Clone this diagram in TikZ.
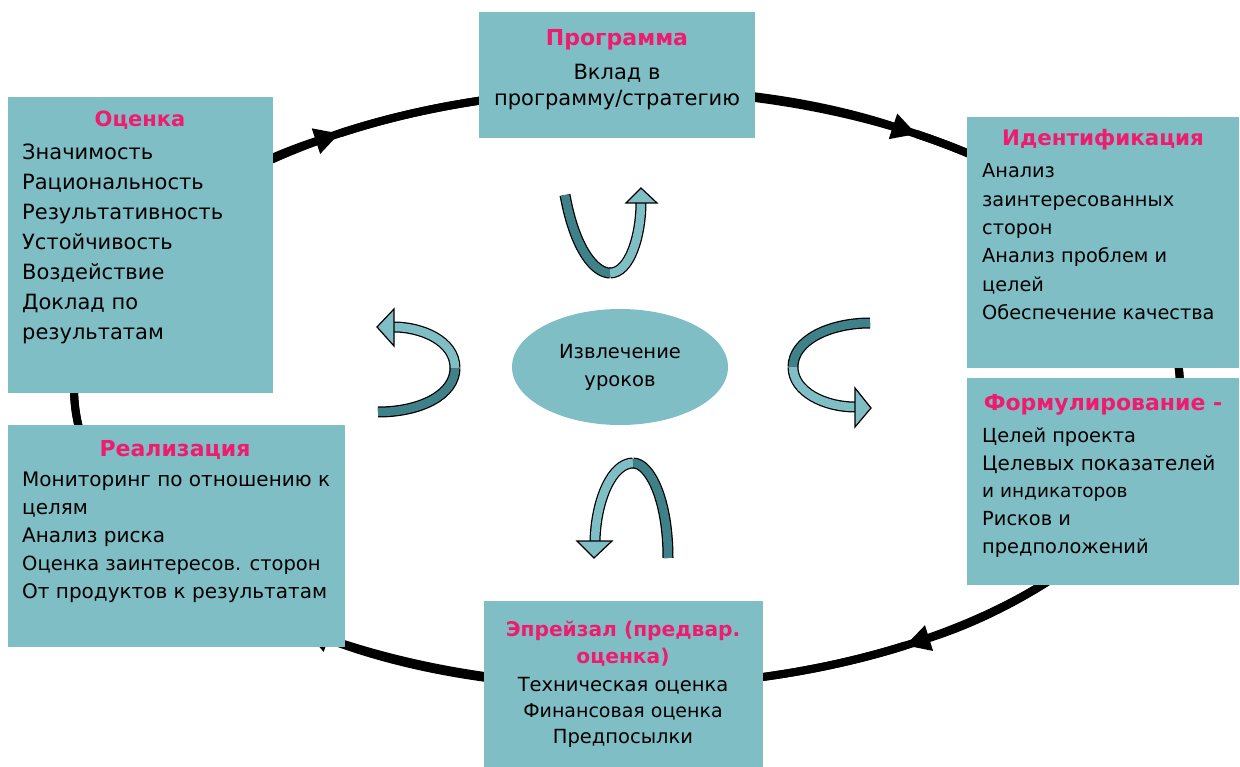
\documentclass[tikz,border=0pt]{standalone}
\usepackage{fontspec}
\setmainfont{DejaVu Sans}
\usetikzlibrary{arrows.meta,shapes.geometric}
\definecolor{boxc}{HTML}{80BEC6}
\definecolor{titc}{HTML}{EE1C6E}
\definecolor{darkc}{HTML}{3E8189}
\newcommand{\fs}[2]{\fontsize{#1}{#2}\selectfont}
\begin{document}
\begin{tikzpicture}[x=1pt,y=-1pt,
  box/.style={fill=boxc, draw=none, inner sep=0pt, anchor=north west},
  ttl/.style={text=titc, font=\bfseries\fs{21}{27}, inner sep=0pt, align=center},
  body/.style={font=\fs{20}{28.5}, align=left, inner sep=0pt, anchor=north west},
  cycline/.style={line width=8pt},
  cyc/.style={line width=8pt, -{Triangle[length=25pt,width=25pt]}},
  ribbonout/.style={line width=11pt, draw=black},
  ribbondark/.style={line width=8.5pt, draw=darkc},
  ribbonlight/.style={line width=8.5pt, draw=boxc},
  head/.style={fill=boxc, draw=black, line width=1.2pt, line join=miter}
]
\useasboundingbox (0,0) rectangle (1240,767);
\fill[white] (0,0) rectangle (1240,767);

% cycle
\coordinate (cc) at (627,388);
\draw[cycline] (cc) ellipse [x radius=553, y radius=298];
\draw[cyc] (cc) ++(238.7:553 and 298) arc[start angle=238.7, end angle=301.6, x radius=553, y radius=298];
\draw[cyc] (cc) ++(301.6:553 and 298) arc[start angle=301.6, end angle=419.8, x radius=553, y radius=298];
\draw[cyc] (cc) ++(419.8:553 and 298) arc[start angle=419.8, end angle=485.6, x radius=553, y radius=298];
\draw[cyc] (cc) ++(485.6:553 and 298) arc[start angle=485.6, end angle=598.7, x radius=553, y radius=298];

% boxes
\node[box, minimum width=276pt, minimum height=126pt] (prog) at (479,12) {};
\node[box, minimum width=265pt, minimum height=296pt] (ocen) at (8,97) {};
\node[box, minimum width=272pt, minimum height=251pt] (iden) at (967,117) {};
\node[box, minimum width=272pt, minimum height=207pt] (form) at (967,378) {};
\node[box, minimum width=337pt, minimum height=222pt] (real) at (8,425) {};
\node[box, minimum width=279pt, minimum height=170pt] (epr) at (484,601) {};

% Программа
\node[ttl, font=\bfseries\fs{22}{27}] (progT) at (617,40) {Программа};
\node[body, align=center, anchor=north, font=\fs{21}{26}] (progB) at (617,64) {Вклад в\\программу/стратегию};

% Оценка
\node[ttl] (ocenT) at (140,120) {Оценка};
\node[body, font=\fs{21}{30}] (ocenB) at (22,143.5) {Значимость\\Рациональность\\Результативность\\Устойчивость\\Воздействие\\Доклад по\\результатам};

% Идентификация
\node[ttl, font=\bfseries\fs{21.4}{27}] (idenT) at (1103,140) {Идентификация};
\node[body, font=\fs{19.3}{28.4}] (idenB) at (982,163.5) {Анализ\\заинтересованных\\сторон\\Анализ проблем и\\целей\\Обеспечение качества};

% Формулирование
\node[ttl, font=\bfseries\fs{22}{27}] (formT) at (1103,405) {Формулирование -};
\node[body, font=\fs{19.4}{27.75}] (formB) at (982,427.5) {Целей проекта\\{\fs{20}{27.75}Целевых показателей}\\{\fs{18.5}{27.75}и индикаторов}\\Рисков и\\предположений};

% Реализация
\node[ttl, font=\bfseries\fs{22}{27}] (realT) at (175,450) {Реализация};
\node[body, font=\fs{20}{28}] (realB) at (22,472) {Мониторинг по отношению к\\целям\\Анализ риска\\{\fs{19.5}{28}Оценка заинтересов. сторон}\\От продуктов к результатам};

% Эпрейзал
\node[ttl, anchor=north, font=\bfseries\fs{20.2}{27}] (eprT) at (623,621) {Эпрейзал (предвар.\\оценка)};
\node[body, align=center, anchor=north, font=\fs{19.5}{26}] (eprB) at (623,677.5) {Техническая оценка\\{\fs{19}{26}Финансовая оценка}\\Предпосылки};

% centre
\node[ellipse, fill=boxc, minimum width=216pt, minimum height=116pt, inner sep=0pt, align=center, font=\fs{19.5}{28}] (less) at (620,367) {Извлечение\\уроков};

% top ribbon arrow
\draw[ribbonout] (565,195) .. controls (575,250) and (595,273) .. (610,273);
\draw[ribbondark] (565,195) .. controls (575,250) and (595,273) .. (610,273);
\draw[ribbonout] (610,273) .. controls (630,273) and (641,235) .. (641,202);
\draw[ribbonlight] (610,273) .. controls (630,273) and (641,235) .. (641,202);
\draw[head] (626,203) -- (641,188) -- (657,203) -- cycle;

% left ribbon arrow
\draw[ribbonout] (378,412) .. controls (420,412) and (455,395) .. (455,368);
\draw[ribbondark] (378,412) .. controls (420,412) and (455,395) .. (455,368);
\draw[ribbonout] (455,368) .. controls (455,340) and (420,327) .. (394,327);
\draw[ribbonlight] (455,368) .. controls (455,340) and (420,327) .. (394,327);
\draw[head] (394,309) -- (377,327) -- (394,346) -- cycle;

% right ribbon arrow
\draw[ribbonout] (870,323) .. controls (830,323) and (793,340) .. (793,367);
\draw[ribbondark] (870,323) .. controls (830,323) and (793,340) .. (793,367);
\draw[ribbonout] (793,367) .. controls (793,392) and (825,407) .. (855,407);
\draw[ribbonlight] (793,367) .. controls (793,392) and (825,407) .. (855,407);
\draw[head] (855,388) -- (871,408) -- (855,427) -- cycle;

% bottom ribbon arrow
\draw[ribbonout] (668,558) .. controls (668,500) and (650,463) .. (633,463);
\draw[ribbondark] (668,558) .. controls (668,500) and (650,463) .. (633,463);
\draw[ribbonout] (633,463) .. controls (612,463) and (596,500) .. (595,541);
\draw[ribbonlight] (633,463) .. controls (612,463) and (596,500) .. (595,541);
\draw[head] (577,541) -- (594,558) -- (612,541) -- cycle;
\end{tikzpicture}
\end{document}
